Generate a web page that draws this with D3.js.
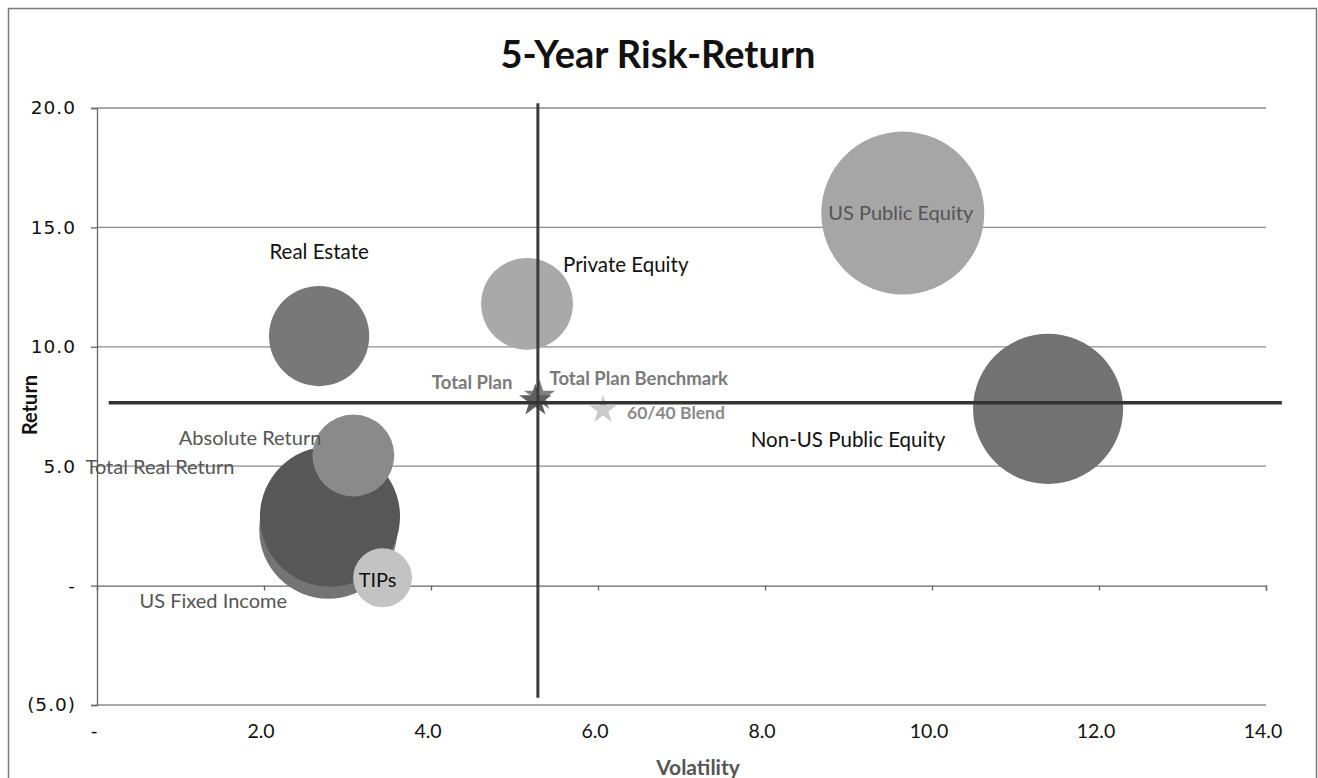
<!DOCTYPE html>
<html>
<head>
<meta charset="utf-8">
<script src="https://cdn.jsdelivr.net/npm/d3@7"></script>
<style>
  html, body { margin: 0; padding: 0; background: #fff; }
  svg { display: block; }
</style>
</head>
<body>
<svg id="chart" width="1318" height="778"></svg>
<script>
// ---------------- data ----------------
const categories = ["US Fixed Income", "Total Real Return", "Absolute Return", "TIPs",
                    "Real Estate", "Private Equity", "US Public Equity", "Non-US Public Equity"];
const volatility = [2.77, 2.79, 3.07, 3.42, 2.66, 5.15, 9.65, 11.39];
const returns    = [2.34, 2.89, 5.45, 0.33, 10.45, 11.8, 15.6, 7.4];
const sizes      = [16.5, 17.0, 5.8, 3.0, 8.7, 7.3, 23.0, 19.5];

const starNames  = ["Total Plan Benchmark", "Total Plan", "60/40 Blend"];
const starVol    = [5.3, 5.25, 6.06];
const starRet    = [7.95, 7.75, 7.36];

const refVertical   = { x: 5.28, y0: -4.7, y1: 20.2 };
const refHorizontal = { y: 7.66, x0: 0.14, x1: 14.19 };

const xTicks = [0, 2, 4, 6, 8, 10, 12, 14];
const yTicks = [-5, 0, 5, 10, 15, 20];
const title = "5-Year Risk-Return";
const xTitle = "Volatility";
const yTitle = "Return";

// ---------------- styles ----------------
const bubbleColor = {
  "US Fixed Income": "#747474", "Total Real Return": "#575757", "Absolute Return": "#8a8a8a",
  "TIPs": "#c3c3c3", "Real Estate": "#787878", "Private Equity": "#a9a9a9",
  "US Public Equity": "#a6a6a6", "Non-US Public Equity": "#727272"
};
const labelStyle = {
  "US Public Equity":     { dx: -2,   dy: 7,   anchor: "middle", fill: "#555", weight: 400, size: 20 },
  "Non-US Public Equity": { dx: -200, dy: 38,  anchor: "middle", fill: "#111", weight: 400, size: 20.5 },
  "Private Equity":       { dx: 36,   dy: -32, anchor: "start",  fill: "#111", weight: 400, size: 20.5 },
  "Real Estate":          { dx: 0,    dy: -77, anchor: "middle", fill: "#111", weight: 400, size: 20.5 },
  "Absolute Return":      { dx: -32,  dy: -10, anchor: "end",    fill: "#555", weight: 400, size: 20 },
  "Total Real Return":    { dx: -170, dy: -43, anchor: "middle", fill: "#555", weight: 400, size: 20 },
  "US Fixed Income":      { dx: -115, dy: 78,  anchor: "middle", fill: "#555", weight: 400, size: 20 },
  "TIPs":                 { dx: -5,   dy: 9,   anchor: "middle", fill: "#111", weight: 400, size: 20 },
  "Total Plan":           { dx: -23,  dy: -12, anchor: "end",    fill: "#7a7a7a", weight: 700, size: 18.5 },
  "Total Plan Benchmark": { dx: 10,   dy: -11, anchor: "start",  fill: "#7a7a7a", weight: 700, size: 18.5 },
  "60/40 Blend":          { dx: 24,   dy: 9,   anchor: "start",  fill: "#8a8a8a", weight: 700, size: 17.5 }
};
const starColor = { "Total Plan Benchmark": "#808080", "Total Plan": "#5e5e5e", "60/40 Blend": "#cacaca" };
const starSize  = { "Total Plan Benchmark": 300, "Total Plan": 330, "60/40 Blend": 250 };

const FONT = "Lato, 'Open Sans', sans-serif";

// ---------------- layout ----------------
const svg = d3.select("#chart");
const plot = { left: 97, right: 1266, top: 108, bottom: 705 };

const x = d3.scaleLinear().domain([0, 14]).range([plot.left, plot.right]);
const y = d3.scaleLinear().domain([-5, 20]).range([plot.bottom, plot.top]);
const r = d3.scaleSqrt().domain([0, 23]).range([0, 81.5]);

// outer frame
svg.append("rect").attr("x", 8.5).attr("y", 8.5).attr("width", 1308).attr("height", 790)
  .attr("fill", "none").attr("stroke", "#7a7a7a").attr("stroke-width", 1.5);

// title
svg.append("text").attr("x", 658).attr("y", 68).attr("text-anchor", "middle")
  .attr("font-family", FONT).attr("font-weight", 700).attr("font-size", 38)
  .attr("fill", "#111").text(title);

// horizontal gridlines
svg.append("g").selectAll("line").data(yTicks.filter(d => d !== 0)).join("line")
  .attr("x1", plot.left).attr("x2", plot.right)
  .attr("y1", d => y(d)).attr("y2", d => y(d))
  .attr("stroke", "#8c8c8c").attr("stroke-width", 1.3);

// y axis
const yAxis = d3.axisLeft(y).tickValues(yTicks).tickSize(6).tickPadding(15)
  .tickFormat(d => d === 0 ? "-" : (d < 0 ? "(" + d3.format(".1f")(-d) + ")" : d3.format(".1f")(d)));
const gy = svg.append("g").attr("transform", `translate(${plot.left},0)`).call(yAxis);
gy.select(".domain").attr("stroke", "#666").attr("stroke-width", 1.3);
gy.selectAll(".tick line").attr("stroke", "#666").attr("stroke-width", 1.3);
gy.selectAll(".tick text").attr("font-family", "'DejaVu Sans', sans-serif")
  .attr("font-size", 18.5).attr("letter-spacing", 1).attr("fill", "#111");

// x axis line at y=0 with ticks, labels at bottom
const xAxis = d3.axisBottom(x).tickValues(xTicks).tickSize(5).tickFormat("");
const gx = svg.append("g").attr("transform", `translate(0,${y(0)})`).call(xAxis);
gx.select(".domain").attr("stroke", "#666").attr("stroke-width", 1.3);
gx.selectAll(".tick line").attr("stroke", "#666").attr("stroke-width", 1.3);

svg.append("g").selectAll("text").data(xTicks).join("text")
  .attr("x", d => x(d) - 3).attr("y", 738).attr("text-anchor", "middle")
  .attr("font-family", FONT).attr("font-size", 19.5).attr("fill", "#111")
  .text(d => d === 0 ? "-" : d3.format(".1f")(d));

// axis titles
svg.append("text").attr("x", 698).attr("y", 775).attr("text-anchor", "middle")
  .attr("font-family", FONT).attr("font-weight", 700).attr("font-size", 21)
  .attr("fill", "#555").text(xTitle);
svg.append("text").attr("transform", "translate(37,405) rotate(-90)").attr("text-anchor", "middle")
  .attr("font-family", FONT).attr("font-weight", 700).attr("font-size", 20)
  .attr("fill", "#111").text(yTitle);

// bubbles
const bubbles = categories.map((c, i) => ({ name: c, vx: volatility[i], vy: returns[i], s: sizes[i] }));
svg.append("g").selectAll("circle").data(bubbles).join("circle")
  .attr("cx", d => x(d.vx)).attr("cy", d => y(d.vy)).attr("r", d => r(d.s))
  .attr("fill", d => bubbleColor[d.name]);

// stars
const stars = starNames.map((n, i) => ({ name: n, vx: starVol[i], vy: starRet[i] }));
svg.append("g").selectAll("path").data(stars).join("path")
  .attr("transform", d => `translate(${x(d.vx)},${y(d.vy)})`)
  .attr("d", d => d3.symbol(d3.symbolStar, starSize[d.name])())
  .attr("fill", d => starColor[d.name]);

// reference lines
svg.append("line")
  .attr("x1", x(refVertical.x)).attr("x2", x(refVertical.x))
  .attr("y1", y(refVertical.y0)).attr("y2", y(refVertical.y1))
  .attr("stroke", "#3c3c3c").attr("stroke-width", 3);
svg.append("line")
  .attr("x1", x(refHorizontal.x0)).attr("x2", x(refHorizontal.x1))
  .attr("y1", y(refHorizontal.y)).attr("y2", y(refHorizontal.y))
  .attr("stroke", "#333").attr("stroke-width", 3.5);

// labels
const labels = bubbles.concat(stars);
svg.append("g").selectAll("text").data(labels).join("text")
  .attr("x", d => x(d.vx) + labelStyle[d.name].dx)
  .attr("y", d => y(d.vy) + labelStyle[d.name].dy)
  .attr("text-anchor", d => labelStyle[d.name].anchor)
  .attr("font-family", FONT).attr("font-size", d => labelStyle[d.name].size)
  .attr("font-weight", d => labelStyle[d.name].weight)
  .attr("fill", d => labelStyle[d.name].fill)
  .text(d => d.name);
</script>
</body>
</html>
